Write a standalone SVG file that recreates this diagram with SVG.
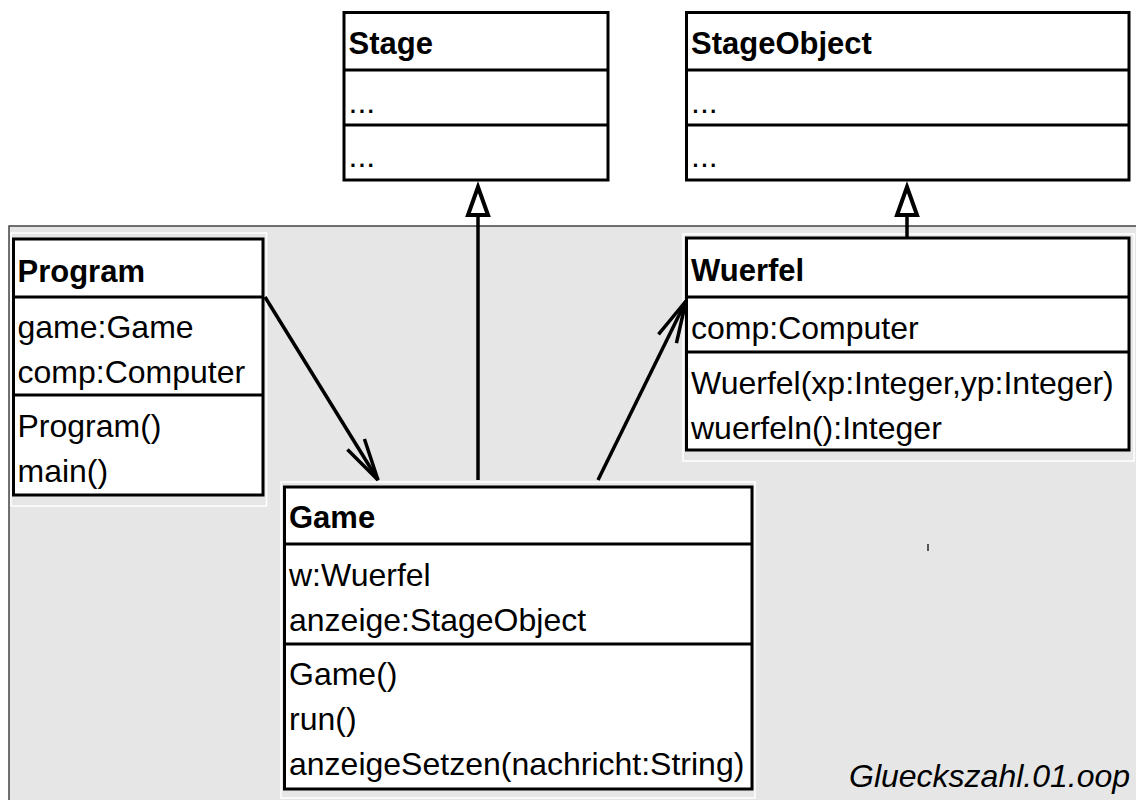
<svg xmlns="http://www.w3.org/2000/svg" width="1136" height="800" viewBox="0 0 1136 800">
<style>
.box{fill:#fff;stroke:#000;stroke-width:3}
.div{stroke:#000;stroke-width:3}
.halo{fill:none;stroke:#fff;stroke-width:1.5}
.t{font-family:"Liberation Sans",Arial,sans-serif;font-size:32px;fill:#000}
.b{font-weight:bold;font-size:31px}
.conn{stroke:#000;stroke-width:3.5;fill:none}
</style>
<defs>
<marker id="gen" markerUnits="userSpaceOnUse" orient="auto" refX="0" refY="0" markerWidth="40" markerHeight="30" style="overflow:visible">
<path d="M0,0 L-28,-10 L-28,10 Z" fill="#fff" stroke="#000" stroke-width="4"/>
</marker>
<marker id="open" markerUnits="userSpaceOnUse" orient="auto" refX="0" refY="0" markerWidth="50" markerHeight="30" style="overflow:visible">
<path d="M-42,-10 L0,0 L-42,10" fill="none" stroke="#000" stroke-width="3.5"/>
</marker>
</defs>
<rect width="1136" height="800" fill="#fff"/>
<rect id="panel" x="9" y="226" width="1140" height="590" fill="#e6e6e6" stroke="#444" stroke-width="1.5"/>
<line x1="928" y1="544" x2="928" y2="551" stroke="#555" stroke-width="2"/>
<text class="t" x="849" y="787" font-style="italic">Glueckszahl.01.oop</text>

<g id="Stage">
<rect class="box" x="344" y="12.5" width="264" height="167.5"/>
<line class="div" x1="344" y1="70" x2="608" y2="70"/>
<line class="div" x1="344" y1="125" x2="608" y2="125"/>
<text class="t b" x="348.5" y="54">Stage</text>
<text class="t" x="348.5" y="113">...</text>
<text class="t" x="348.5" y="167">...</text>
</g>

<g id="StageObject">
<rect class="box" x="686.5" y="12.5" width="442.5" height="167.5"/>
<line class="div" x1="686.5" y1="70" x2="1129" y2="70"/>
<line class="div" x1="686.5" y1="125" x2="1129" y2="125"/>
<text class="t b" x="691" y="54">StageObject</text>
<text class="t" x="691" y="113">...</text>
<text class="t" x="691" y="167">...</text>
</g>

<g id="Program">
<rect class="halo" x="11" y="233" width="255.5" height="273"/>
<rect class="box" x="13.5" y="239" width="249.5" height="256"/>
<line class="div" x1="13.5" y1="297" x2="263" y2="297"/>
<line class="div" x1="13.5" y1="395" x2="263" y2="395"/>
<text class="t b" x="17.5" y="282">Program</text>
<text class="t" x="17.5" y="338">game:Game</text>
<text class="t" x="17.5" y="383">comp:Computer</text>
<text class="t" x="17.5" y="437">Program()</text>
<text class="t" x="17.5" y="482">main()</text>
</g>

<g id="Wuerfel">
<rect class="halo" x="683" y="234" width="451" height="227"/>
<rect class="box" x="686.5" y="238" width="442.5" height="212"/>
<line class="div" x1="686.5" y1="297" x2="1129" y2="297"/>
<line class="div" x1="686.5" y1="352" x2="1129" y2="352"/>
<text class="t b" x="691" y="281">Wuerfel</text>
<text class="t" x="691" y="339">comp:Computer</text>
<text class="t" x="691" y="394">Wuerfel(xp:Integer,yp:Integer)</text>
<text class="t" x="691" y="439">wuerfeln():Integer</text>
</g>

<g id="Game">
<rect class="halo" x="281" y="482" width="474" height="316"/>
<rect class="box" x="284.5" y="487" width="467.5" height="302"/>
<line class="div" x1="284.5" y1="544" x2="752" y2="544"/>
<line class="div" x1="284.5" y1="644" x2="752" y2="644"/>
<text class="t b" x="289" y="528">Game</text>
<text class="t" x="289" y="586">w:Wuerfel</text>
<text class="t" x="289" y="631">anzeige:StageObject</text>
<text class="t" x="289" y="685">Game()</text>
<text class="t" x="289" y="730">run()</text>
<text class="t" x="289" y="775">anzeigeSetzen(nachricht:String)</text>
</g>

<g id="connectors">
<line class="conn" x1="265" y1="297" x2="378" y2="480" marker-end="url(#open)"/>
<line class="conn" x1="598" y1="480" x2="686" y2="301" marker-end="url(#open)"/>
<line class="conn" x1="478" y1="480" x2="478" y2="187" marker-end="url(#gen)"/>
<line class="conn" x1="907" y1="237" x2="907" y2="187" marker-end="url(#gen)"/>
</g>
</svg>
